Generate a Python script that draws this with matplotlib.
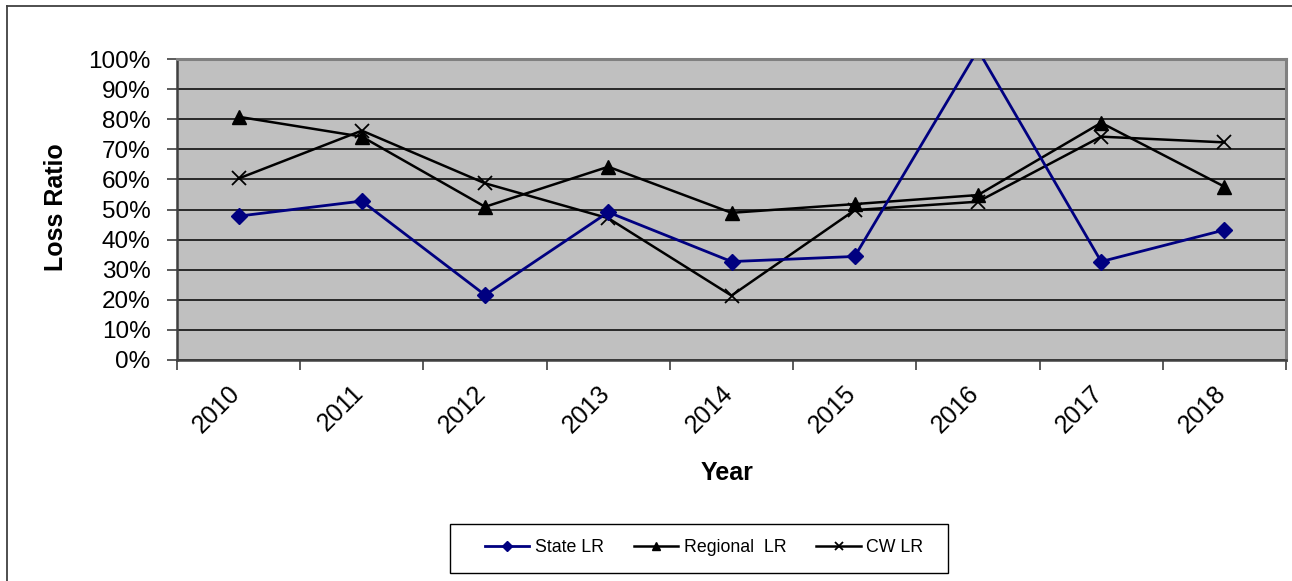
import matplotlib
matplotlib.use("Agg")
import matplotlib.pyplot as plt
from matplotlib.lines import Line2D
from matplotlib.patches import Rectangle
from matplotlib.ticker import FuncFormatter, FixedLocator
from matplotlib.transforms import ScaledTranslation

# Loss ratio data by year
years = ["2010", "2011", "2012", "2013", "2014", "2015", "2016", "2017", "2018"]
state_lr = [0.478, 0.528, 0.216, 0.491, 0.327, 0.344, 1.03, 0.327, 0.432]
regional_lr = [0.808, 0.742, 0.509, 0.642, 0.489, 0.518, 0.548, 0.788, 0.576]
cw_lr = [0.603, 0.762, 0.587, 0.471, 0.214, 0.498, 0.526, 0.742, 0.723]
y_ticks = [0.0, 0.1, 0.2, 0.3, 0.4, 0.5, 0.6, 0.7, 0.8, 0.9, 1.0]

plt.rcParams["font.family"] = ["Liberation Sans", "DejaVu Sans"]

W, H = 1292, 581
fig = plt.figure(figsize=(W / 100, H / 100), dpi=100)

# outer chart-area border (top and left edges)
fig.add_artist(Line2D([7 / W, 1.0], [1 - 6 / H, 1 - 6 / H], color="#404040", lw=1.3,
                      transform=fig.transFigure))
fig.add_artist(Line2D([7 / W, 7 / W], [1 - 6 / H, 0.0], color="#404040", lw=1.3,
                      transform=fig.transFigure))

left, right, top, bottom = 177, 1286, 59, 360
ax = fig.add_axes([left / W, 1 - bottom / H, (right - left) / W, (bottom - top) / H])
ax.set_facecolor("#C0C0C0")

x = list(range(len(years)))
ax.plot(x, state_lr, color="#000080", lw=2.0, marker="D", ms=7.8,
        mfc="#000080", mec="#000080", label="State LR", zorder=4)
ax.plot(x, regional_lr, color="black", lw=1.8, marker="^", ms=10.5,
        mfc="black", mec="black", label="Regional  LR", zorder=3)
ax.plot(x, cw_lr, color="black", lw=1.8, marker="x", ms=10, mew=1.3,
        label="CW LR", zorder=3)

ax.set_xlim(-0.5, len(years) - 0.5)
ax.set_ylim(0, 1)

ax.set_yticks(y_ticks)
ax.yaxis.set_major_formatter(FuncFormatter(lambda v, p: f"{v * 100:.0f}%"))
ax.grid(axis="y", color="black", lw=1.1, zorder=1)
ax.set_axisbelow(True)

# category boundaries carry the tick marks; labels sit at the centres
ax.xaxis.set_major_locator(FixedLocator([i - 0.5 for i in range(len(years) + 1)]))
ax.set_xticklabels([])
ax.xaxis.set_minor_locator(FixedLocator(x))
ax.set_xticklabels(years, minor=True, rotation=45, ha="right", va="top", fontsize=18)
ax.tick_params(axis="x", which="minor", length=0, pad=15)
ax.tick_params(axis="x", which="major", length=7, width=1.2, color="#404040", direction="out")
ax.tick_params(axis="y", length=7, width=1.2, color="#404040", direction="out",
               labelsize=17.5, pad=12)
shift = ScaledTranslation(6 / 100, 0, fig.dpi_scale_trans)
for lbl in ax.get_xticklabels(minor=True):
    lbl.set_transform(lbl.get_transform() + shift)

for side in ("top", "right"):
    ax.spines[side].set_color("#808080")
    ax.spines[side].set_linewidth(2.2)
for side in ("left", "bottom"):
    ax.spines[side].set_color("#404040")
    ax.spines[side].set_linewidth(1.8)

fig.text(56 / W, 1 - 207 / H, "Loss Ratio", rotation=90, ha="center", va="center",
         fontsize=18, fontweight="bold")
fig.text(727 / W, 1 - 473 / H, "Year", ha="center", va="center",
         fontsize=18, fontweight="bold")

# legend frame and entries
fig.add_artist(Rectangle((450 / W, 1 - 573 / H), (948 - 450) / W, (573 - 524) / H,
                         transform=fig.transFigure, fill=False, edgecolor="black", lw=1.0))
handles, labels = ax.get_legend_handles_labels()
leg = fig.legend(handles, labels, loc="center", bbox_to_anchor=(704 / W, 1 - 548 / H),
                 ncol=3, frameon=False, fontsize=12.8, handlelength=2.5,
                 handletextpad=0.3, columnspacing=1.7, markerscale=0.6)

fig.savefig("out.png", dpi=100)
